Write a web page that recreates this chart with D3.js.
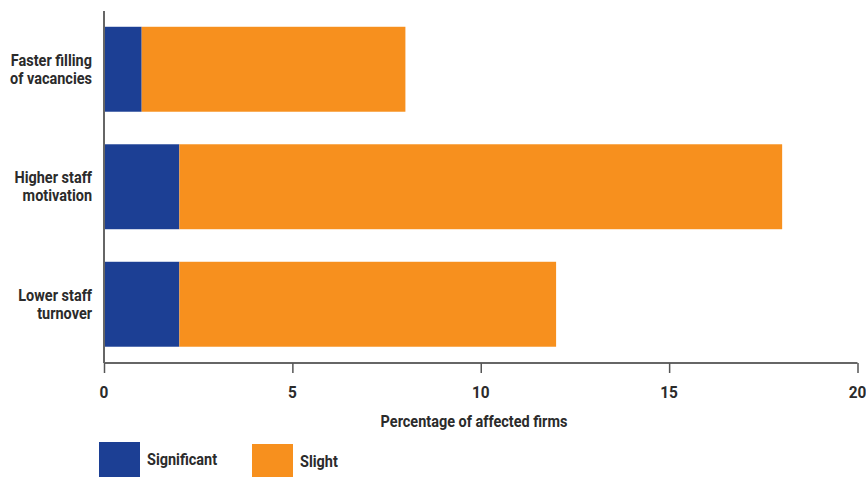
<!DOCTYPE html>
<html><head><meta charset="utf-8">
<script src="https://cdn.jsdelivr.net/npm/d3@7"></script>
<style>
body{margin:0;background:#fff;}
text{font-family:Roboto,"Liberation Sans",sans-serif;font-weight:bold;fill:#2b2b2b;}
</style></head>
<body><svg id="c" width="866" height="477"></svg>
<script>
const categories = [["Faster filling","of vacancies"],["Higher staff","motivation"],["Lower staff","turnover"]];
const significant = [1, 2, 2];
const slight = [7, 16, 10];
const xTicks = [0, 5, 10, 15, 20];
const seriesNames = ["Significant", "Slight"];
const colors = ["#1c3f94", "#f7901e"];
const SX = 0.905; // condensed look

const svg = d3.select("#c");
const x = d3.scaleLinear().domain([0, 20]).range([104, 857.5]);
const y = d3.scaleBand().domain(d3.range(categories.length)).range([10.5, 363]).paddingInner(0.277).paddingOuter(0.1385);

const stackData = categories.map((c, i) => ({i, Significant: significant[i], Slight: slight[i]}));
const stack = d3.stack().keys(seriesNames)(stackData);

svg.append("g").selectAll("g").data(stack).join("g")
  .attr("fill", (d, k) => colors[k])
  .selectAll("rect").data(d => d).join("rect")
  .attr("x", d => x(d[0])).attr("width", d => x(d[1]) - x(d[0]))
  .attr("y", d => y(d.data.i)).attr("height", y.bandwidth());

function label(px, py, str, anchor, size) {
  svg.append("g").attr("transform", `translate(${px},${py}) scale(${SX},1)`)
    .append("text").attr("text-anchor", anchor).attr("font-size", size).text(str);
}

// x axis
const xa = svg.append("g").attr("transform", "translate(0,363)")
  .call(d3.axisBottom(x).tickValues(xTicks).tickSize(10).tickFormat(""));
xa.select(".domain").attr("stroke", "#666").attr("stroke-width", 2).attr("d", "M104,0H857.5");
xa.selectAll(".tick line").attr("stroke", "#555").attr("stroke-width", 1.5);
xTicks.forEach(t => label(x(t), 398, d3.format("d")(t), "middle", 17));

// y axis line
svg.append("line").attr("x1", 104).attr("x2", 104).attr("y1", 11).attr("y2", 363)
  .attr("stroke", "#666").attr("stroke-width", 2);

// category labels
categories.forEach((c, i) => {
  const cy = y(i) + y.bandwidth() / 2;
  c.forEach((line, j) => label(92, cy + (j - 0.5) * 18 + 5.5, line, "end", 16));
});

// axis title
label(474, 427, "Percentage of affected firms", "middle", 16);

// legend
const legX = [99, 252];
const legY = [442, 444];
seriesNames.forEach((n, k) => {
  svg.append("rect").attr("x", legX[k]).attr("y", legY[k]).attr("width", 41).attr("height", 35).attr("fill", colors[k]);
  label(legX[k] + 48, legY[k] + 23, n, "start", 16);
});
</script></body></html>
